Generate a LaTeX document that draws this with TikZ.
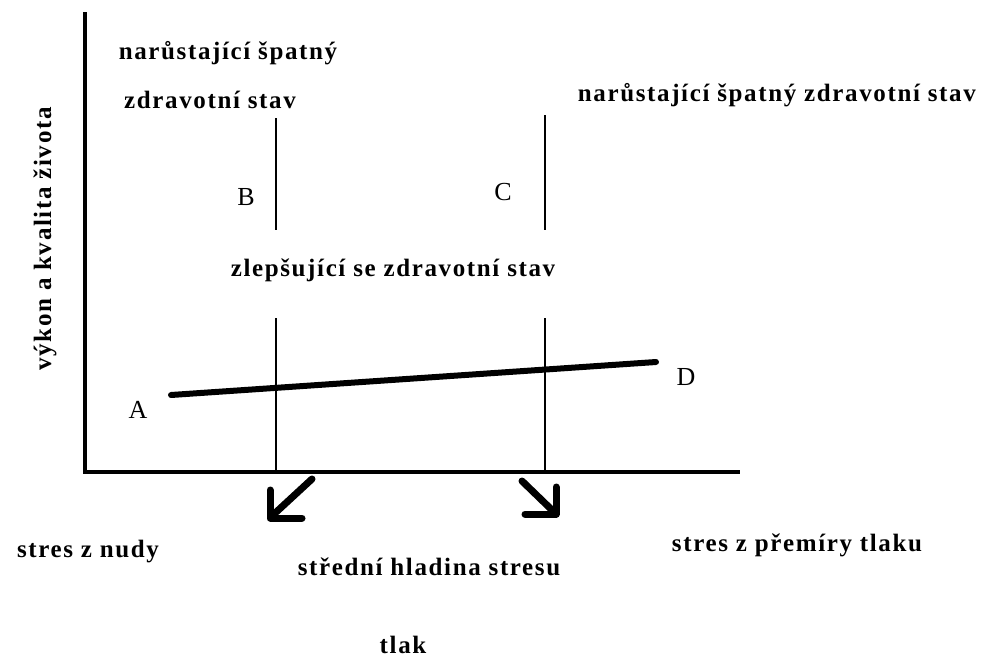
\documentclass[tikz,border=0pt]{standalone}
\usepackage{fontspec}
\setmainfont{Liberation Serif}
\usepackage{tikz}
\usetikzlibrary{positioning}

\begin{document}
\begin{tikzpicture}[
    x=1pt, y=-1pt,
    lbl/.style={font=\fontsize{25}{29}\selectfont\bfseries\addfontfeature{LetterSpace=6.5}, inner sep=0pt},
    letter/.style={font=\fontsize{26}{30}\selectfont, inner sep=0pt},
    axis/.style={line width=4.5pt},
    mark line/.style={line width=1.4pt},
    trend/.style={line width=6pt, line cap=round},
    bigarrow/.style={line width=7pt, line cap=round, line join=round}
]
\useasboundingbox (0,0) rectangle (996,659);
% axes
\coordinate (origin) at (85,472);
\coordinate (ytop) at (85,12);
\coordinate (xend) at (740,472);
\draw[axis] (ytop) -- (origin) -- (xend);
% vertical markers
\coordinate (b1) at (276,118);
\coordinate (b2) at (276,230);
\coordinate (b3) at (276,318);
\coordinate (b4) at (276,472);
\coordinate (c1) at (545,115);
\coordinate (c2) at (545,230);
\coordinate (c3) at (545,318);
\coordinate (c4) at (545,472);
\draw[mark line] (b1) -- (b2);
\draw[mark line] (b3) -- (b4);
\draw[mark line] (c1) -- (c2);
\draw[mark line] (c3) -- (c4);
% trend line
\coordinate (ptA) at (171,395);
\coordinate (ptD) at (656,362);
\draw[trend] (ptA) -- (ptD);
% arrows under the axis
\coordinate (la1) at (312,479);
\coordinate (la2) at (273,515);
\coordinate (lh1) at (270,490);
\coordinate (lh2) at (270,518);
\coordinate (lh3) at (302,518);
\draw[bigarrow] (la1) -- (la2);
\draw[bigarrow] (lh1) -- (lh2) -- (lh3);
\coordinate (ra1) at (522,481);
\coordinate (ra2) at (552,510);
\coordinate (rh1) at (525,514);
\coordinate (rh2) at (556,514);
\coordinate (rh3) at (556,487);
\draw[bigarrow] (ra1) -- (ra2);
\draw[bigarrow] (rh1) -- (rh2) -- (rh3);
% letters
\node[letter] (A) at (138,410) {A};
\node[letter] (B) at (246,197) {B};
\node[letter] (C) at (503,192) {C};
\node[letter] (D) at (686,377) {D};
% labels
\node[lbl] (worseL1) at (228,53) {narůstající špatný};
\node[lbl] (worseL2) at (210,100) {zdravotní stav};
\node[lbl, anchor=east] (worseR) at (976,95) {narůstající špatný zdravotní stav};
\node[lbl] (better) at (393,270) {zlepšující se zdravotní stav};
\node[lbl, rotate=90] (ylabel) at (45,239) {výkon a kvalita života};
\node[lbl] (boredom) at (88,552) {stres z nudy};
\node[lbl] (middle) at (429,567) {střední hladina stresu};
\node[lbl] (overload) at (797,545) {stres z přemíry tlaku};
\node[lbl] (pressure) at (403,645) {tlak};
\end{tikzpicture}
\end{document}
